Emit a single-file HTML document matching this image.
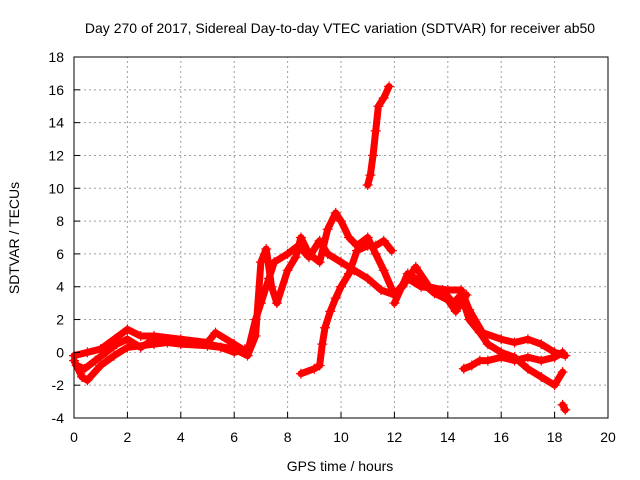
<!DOCTYPE html>
<html><head><meta charset="utf-8"><style>
body{margin:0;background:#fff;}
svg{display:block;font-family:"Liberation Sans",sans-serif;}
</style></head><body>
<svg id="chart" width="640" height="480" viewBox="0 0 640 480" xmlns="http://www.w3.org/2000/svg">
<text x="340" y="33" font-size="14" text-anchor="middle">Day 270 of 2017, Sidereal Day-to-day VTEC variation (SDTVAR) for receiver ab50</text>
<text x="340" y="471" font-size="14" text-anchor="middle">GPS time / hours</text>
<text x="0" y="0" font-size="14" text-anchor="middle" transform="translate(19,238) rotate(-90)">SDTVAR / TECUs</text>
<g id="grid"></g>
<g id="series"></g>
<g id="axes"></g>
</svg>
<script>
const xTicks=[0,2,4,6,8,10,12,14,16,18,20];
const yTicks=[-4,-2,0,2,4,6,8,10,12,14,16,18];
const traceA=[[0,-0.5],[0.3,-1.5],[0.5,-1.7],[1,-0.8],[1.5,-0.2],[2,0.3],[3,0.5],[4,0.7],[5,0.5],[6,0.2],[6.5,-0.2],[6.8,1],[7,5.5],[7.2,6.3],[7.4,4],[7.6,3],[8,5],[8.3,5.8],[8.5,7],[8.8,6],[9.2,5.5],[9.5,7.5],[9.8,8.5],[10,8],[10.3,7],[10.6,6.5],[11,7],[11.3,6],[11.6,5],[12,3.5],[12.3,4],[12.8,5.2],[13.3,4],[13.8,3.8],[14.2,3],[14.5,3.5],[14.8,2],[15.2,1.2],[15.5,0.5],[16,0],[16.5,-0.3],[17,-1],[17.5,-1.5],[18,-2],[18.3,-1.2]];
const traceB=[[0,-0.2],[0.5,0],[1,0.2],[2,1.4],[2.5,1],[3,1],[4,0.8],[5,0.6],[5.3,1.2],[6,0.5],[6.5,0],[6.8,2],[7,3],[7.3,4.5],[7.5,5.5],[8,6],[8.4,6.5],[8.8,5.8],[9.2,6.8],[9.5,6],[10,5.5],[10.5,5],[11,4.5],[11.5,3.8],[12,3.5],[12.5,4.5],[13,4],[14,3.8],[14.5,3.8],[14.8,2.6],[15.3,1.2],[16,0.8],[16.5,0.6],[17,0.8],[17.5,0.5],[18,0],[18.4,-0.2]];
const traceC=[[8.5,-1.3],[9,-1.0],[9.2,-0.8],[9.3,0.5],[9.4,1.5],[9.6,2.5],[9.8,3.3],[10,4],[10.3,4.8],[10.6,6.2],[11,6.5],[11.3,6.5],[11.6,6.8],[11.9,6.2]];
const traceD=[[11,10.2],[11.1,10.8],[11.2,12],[11.3,13.5],[11.4,15],[11.6,15.5],[11.8,16.2]];
const traceE=[[14.6,-1],[14.9,-0.8],[15.2,-0.5],[15.5,-0.5],[16,-0.3],[16.5,-0.5],[17,-0.3],[17.5,-0.5],[18,-0.3],[18.3,0]];
const traceF=[[18.3,-3.2],[18.4,-3.5]];
const traceG=[[0.1,-0.8],[0.4,-1],[0.8,-0.5],[1.2,0],[1.6,0.5],[2,0.8],[2.5,0.3],[3,0.8],[3.5,0.6],[4,0.5],[5,0.4],[5.5,0.3],[6,0],[6.4,0.2]];
const traceH=[[12,3],[12.5,4.8],[13,4.3],[13.5,3.6],[14,3.2],[14.3,2.5],[14.7,3.5]];
const traces=[traceA,traceB,traceC,traceD,traceE,traceF,traceG,traceH];

const X0=74,X1=608,Y0=418,Y1=57,xmin=0,xmax=20,ymin=-4,ymax=18;
const sx=v=>X0+(v-xmin)/(xmax-xmin)*(X1-X0);
const sy=v=>Y0-(v-ymin)/(ymax-ymin)*(Y0-Y1);
const NS="http://www.w3.org/2000/svg";
function mk(t,a,p){const e=document.createElementNS(NS,t);for(const k in a)e.setAttribute(k,a[k]);p.appendChild(e);return e;}
const grid=document.getElementById('grid'),axes=document.getElementById('axes'),ser=document.getElementById('series');
xTicks.forEach(t=>{
  if(t>xmin&&t<xmax){const g=mk('line',{x1:sx(t),x2:sx(t),y1:Y0,y2:Y1,stroke:'#a0a0a0','stroke-dasharray':'2,3','stroke-width':1},grid);
  
  }
  const tk=mk('line',{x1:sx(t),x2:sx(t),y1:Y0,y2:Y0-6,stroke:'#000'},axes);
  
  
  const tx=mk('text',{x:sx(t),y:Y0+24,'font-size':14,'text-anchor':'middle'},axes);tx.textContent=t;
  
  
});
yTicks.forEach(t=>{
  if(t>ymin&&t<ymax){const g=mk('line',{x1:X0,x2:X1,y1:sy(t),y2:sy(t),stroke:'#a0a0a0','stroke-dasharray':'2,3','stroke-width':1},grid);
  
  }
  const tk=mk('line',{x1:X0,x2:X0+6,y1:sy(t),y2:sy(t),stroke:'#000'},axes);
  
  
  const tx=mk('text',{x:X0-10,y:sy(t)+5,'font-size':14,'text-anchor':'end'},axes);tx.textContent=t;
  
  
});
const bd=mk('rect',{x:X0,y:Y1,width:X1-X0,height:Y0-Y1,fill:'none',stroke:'#000'},axes);


traces.forEach((tr,i)=>{
  const pl=mk('polyline',{points:tr.map(p=>sx(p[0])+','+sy(p[1])).join(' '),fill:'none',stroke:'#f00','stroke-width':7,'stroke-linejoin':'round','stroke-linecap':'round'},ser);
  
  
  tr.forEach(p=>{
    const x=sx(p[0]),y=sy(p[1]);
    const m=mk('path',{d:`M${x-5},${y}H${x+5}M${x},${y-5}V${y+5}`,stroke:'#f00','stroke-width':1.2},ser);
    
    
  });
});
</script>
</body></html>
